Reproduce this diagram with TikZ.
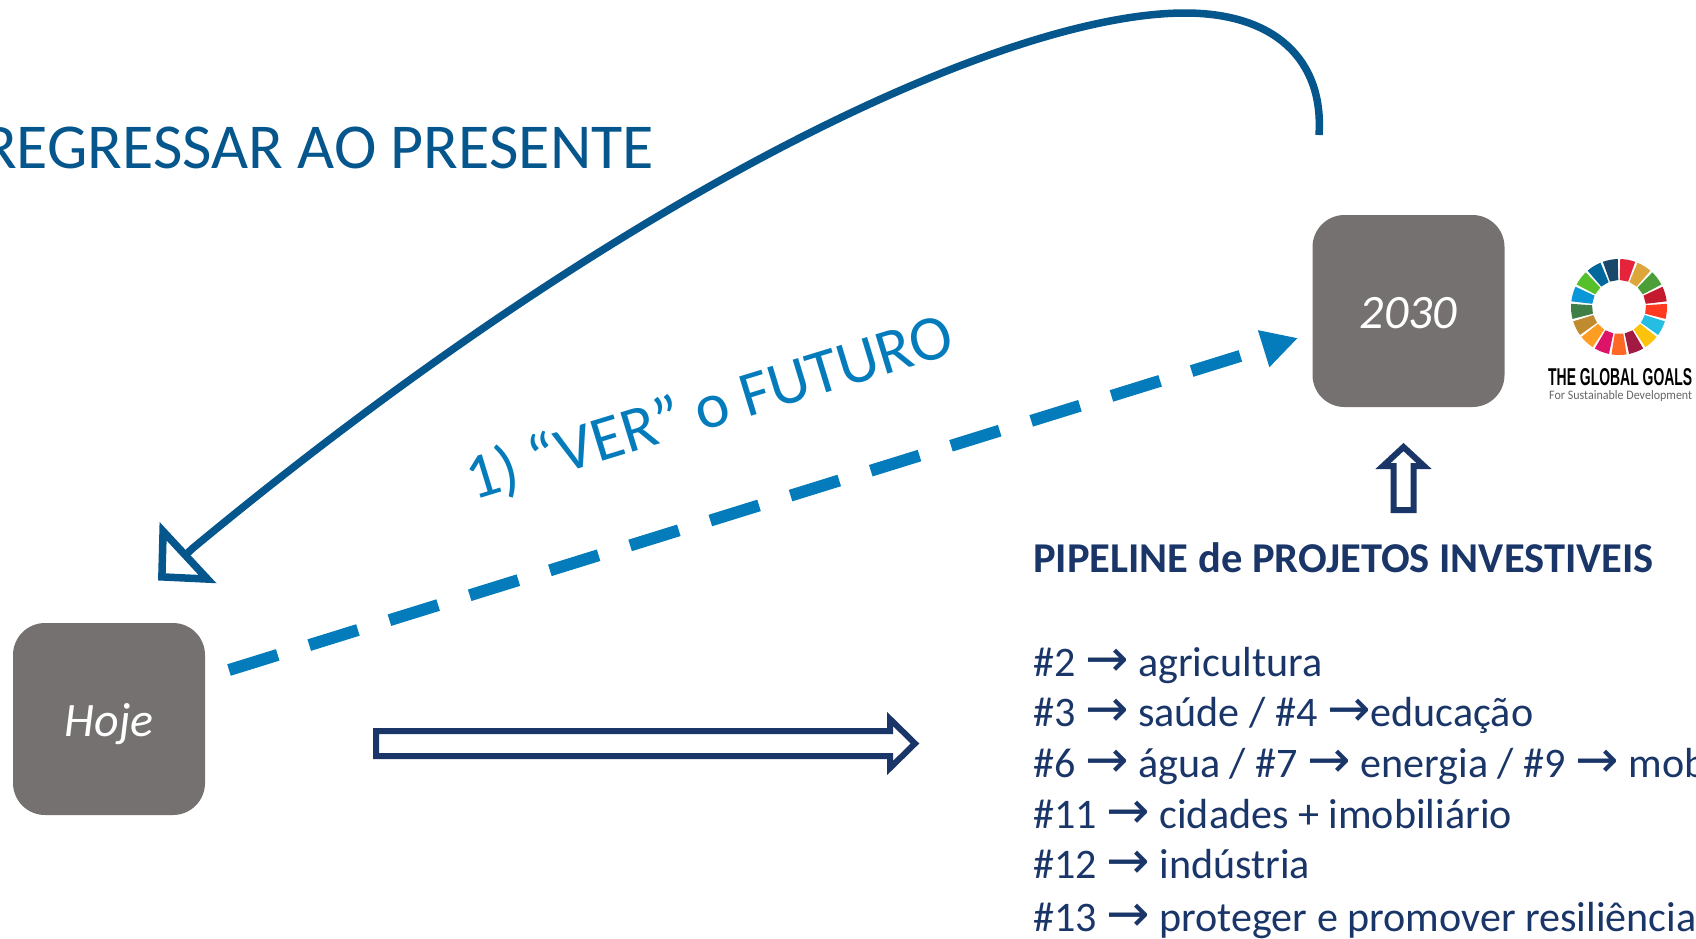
\documentclass[tikz,border=0pt]{standalone}
\usepackage{fontspec}
\usepackage{graphicx}
\setmainfont{Carlito}
\newfontfamily\setafont{DejaVu Sans}
\newfontfamily\goalsfont{Liberation Sans}
\usetikzlibrary{arrows.meta}
\definecolor{azulvolta}{HTML}{04568C}
\definecolor{azulver}{HTML}{047CBB}
\definecolor{marinho}{HTML}{1A3668}
\definecolor{cinza}{HTML}{767171}
\newcommand{\fs}[1]{\fontsize{#1}{#1}\selectfont}
\newcommand{\seta}{{\setafont\fs{52}→}}
\tikzset{
  caixa/.style={fill=cinza,rounded corners=32pt,minimum size=192pt,inner sep=0pt,text=white,text height=34pt,text depth=0pt,font=\fs{48}\itshape},
  volta/.style={azulvolta,line width=7.5pt,-{Triangle[open,length=41pt,width=82pt,fill=white]}},
  ver/.style={azulver,line width=12pt,dash pattern=on 51pt off 33pt,-{Triangle[length=36pt,width=36pt]}},
  seta/.style={marinho,line width=6pt,fill=white,miter limit=10},
  linha/.style={anchor=base west,inner sep=0pt,text=marinho,font=\fs{42.1}},
}
\begin{document}
\begin{tikzpicture}[x=1pt,y=-1pt]
  \useasboundingbox (0,0) rectangle (1696,938);
  \clip (0,0) rectangle (1696,938);
  \node [caixa] (hoje) at (109,719) {Hoje};
  \node [caixa] (ano) at (1408.5,311) {2030};
  % setas
  \coordinate (voltaIni) at (1319,135);
  \coordinate (voltaMeio) at (193,548);
  \coordinate (voltaFim) at (158,580.5);
  \draw [volta] (voltaIni) .. controls (1324,60) and (1275,13) .. (1185,13)
     .. controls (1005,13) and (625,190) .. (voltaMeio) -- (voltaFim);
  \coordinate (verIni) at (229,670);
  \coordinate (verFim) at (1298,338);
  \draw [ver] (verIni) -- (verFim);
  \draw [seta] (376,731) -- (890,731) -- (890,719) -- (915,743.5) -- (890,768) -- (890,756) -- (376,756) -- cycle;
  \draw [seta] (1393.5,510) -- (1393.5,466) -- (1383,466) -- (1403.5,447) -- (1424,466) -- (1413.5,466) -- (1413.5,510) -- cycle;
  % textos
  \node [anchor=base east,inner sep=0pt,text=azulvolta,font=\fs{64}] (regressar) at (654,168) {REGRESSAR AO PRESENTE};
  \node [anchor=base west,inner sep=0pt,rotate=17,text=azulver,font=\fs{64}] (verFuturo) at (473,501) {1) “VER” o FUTURO};
  \node [linha,font=\fs{42.5}\bfseries] (pipeline) at (1033,572) {PIPELINE de PROJETOS INVESTIVEIS};
  \foreach \y/\txt in {676/{\#2 \seta{} agricultura},
                       726/{\#3 \seta{} saúde / \#4 \seta{}educação},
                       777/{\#6 \seta{} água / \#7 \seta{} energia / \#9 \seta{} mob},
                       828/{\#11 \seta{} cidades + imobiliário},
                       878/{\#12 \seta{} indústria},
                       931/{\#13 \seta{} proteger e promover resiliência}}
    \node [linha] (linha\y) at (1033,\y) {\txt};
  % logo
  \foreach \i/\cor in {0/E5243B,1/DDA63A,2/4C9F38,3/C5192D,4/FF3A21,5/26BDE2,6/FCC30B,7/A21942,8/FD6925,
                       9/DD1367,10/FD9D24,11/BF8B2E,12/3F7E44,13/0A97D9,14/56C02B,15/00689D,16/19486A}{
    \definecolor{odscor}{HTML}{\cor}
    \pgfmathsetmacro{\angA}{-90+\i*21.176+1.5}
    \pgfmathsetmacro{\angB}{-90+(\i+1)*21.176-1.5}
    \fill [odscor,shift={(1619,307)}] (\angA:27) -- (\angA:48) arc [start angle=\angA,end angle=\angB,radius=48] -- (\angB:27) -- cycle;
  }
  \node [anchor=north west,inner sep=0pt] (goals) at (1548,368) {\resizebox{144pt}{17pt}{\goalsfont\bfseries THE GLOBAL GOALS}};
  \node [anchor=north west,inner sep=0pt,text=black!60] (goalsSub) at (1549,390) {\resizebox{143pt}{9pt}{For Sustainable Development}};
\end{tikzpicture}
\end{document}
